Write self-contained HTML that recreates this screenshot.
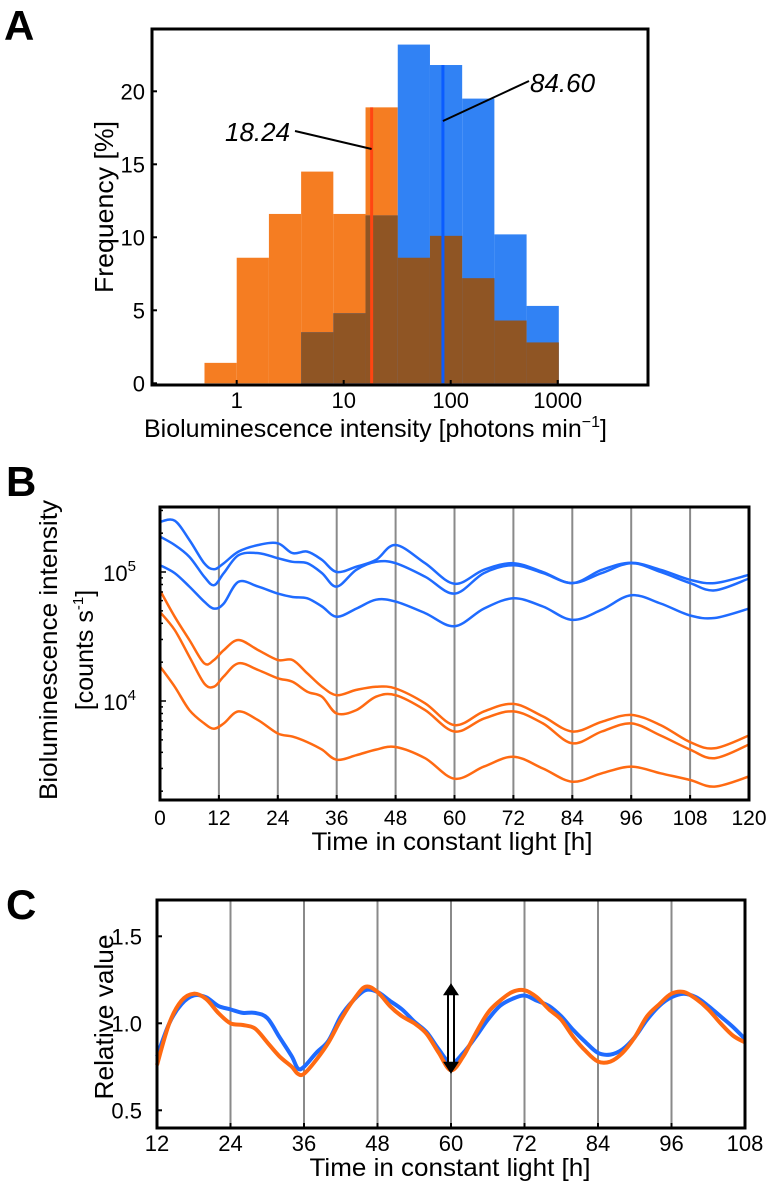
<!DOCTYPE html>
<html><head><meta charset="utf-8"><style>
html,body{margin:0;padding:0;background:#fff;}
svg{display:block;font-family:"Liberation Sans",Arial,sans-serif;}
</style></head><body>
<svg id="fig" width="771" height="1185" viewBox="0 0 771 1185" xmlns="http://www.w3.org/2000/svg">
<text x="4" y="40" font-size="42" font-weight="bold">A</text>
<text x="6" y="496" font-size="42" font-weight="bold">B</text>
<text x="6" y="919" font-size="42" font-weight="bold">C</text>
<g id="pa"></g>
<g id="pb"></g>
<g id="pc"></g>
</svg>
<script>
// ---------- Panel A data ----------
const binEdges = [0.5,1,2,4,8,16,32,64,128,256,512,1024];
const orangeFreq = [1.4,8.6,11.6,14.5,11.6,18.9,8.6,10.1,7.2,4.3,2.8];
const blueFreq = [0,0,0,3.5,4.8,11.5,23.2,21.8,19.5,10.2,5.3];
const aYTicks = [0,5,10,15,20];
const aXTicks = [1,10,100,1000];
const aXTickLabels = ["1","10","100","1000"];
const orangeMedian = 18.24;
const blueMedian = 84.60;
const orangeMedianLabel = "18.24";
const blueMedianLabel = "84.60";

// ---------- Panel B data ----------
const bTimes = [0,3,6,9,11,13,16,20,24,27,30,33,36,40,44,48,54,60,66,72,78,84,90,96,102,108,113,120];
const blue1 = [245,250,177,117,105,117,144,162,167,140,144,124,100,110,124,162,117,81,104,117,100,82,104,118,104,87,82,95];
const blue2 = [188,162,131,92,79,98,135,140,128,120,117,98,77,104,120,117,92,68,98,113,98,82,98,117,100,82,72,89];
const blue3 = [113,98,77,59,52,57,84,77,68,64,62.5,54,45,52,61,59,48,38,52,62.5,54,42.5,51,66,57,46,44,52];
const orange1 = [72,45,29.7,19.6,20.8,24.8,29.7,24.8,20.8,20.8,16.4,12.9,11.1,12.2,12.9,12.5,9.6,6.5,8.3,9.5,7.6,5.8,6.9,7.8,6.5,4.8,4.3,5.4];
const orange2 = [49,35.5,22,13.7,12.9,15.5,19.6,17.4,15.0,14.1,11.8,10.8,8.0,8.5,10.8,11.1,8.5,5.8,7.3,8.3,6.7,4.7,5.8,6.7,5.4,4.2,3.6,4.6];
const orange3 = [18.5,12.9,8.5,6.7,6.1,6.7,8.3,7.1,5.6,5.3,4.8,4.2,3.5,3.8,4.2,4.4,3.6,2.5,3.1,3.7,3.0,2.37,2.75,3.1,2.75,2.44,2.17,2.6];
const bXTicks = [0,12,24,36,48,60,72,84,96,108,120];
const bYMajor = [4,5];

// ---------- Panel C data ----------
const cTimes = [12,14,16,18,20,22,24,26,28,30,32,34,35,36,38,40,42,44,46,48,50,52,54,56,58,60,62,64,66,68,70,72,74,76,78,80,82,84,86,88,90,92,94,96,98,100,102,104,106,108];
const cBlue = [0.81,1.0,1.11,1.16,1.15,1.10,1.08,1.06,1.06,1.03,0.92,0.81,0.74,0.75,0.83,0.90,1.04,1.13,1.19,1.18,1.13,1.08,1.01,0.95,0.85,0.77,0.83,0.92,1.02,1.10,1.14,1.16,1.13,1.10,1.04,0.96,0.89,0.83,0.82,0.85,0.92,1.02,1.10,1.15,1.17,1.15,1.10,1.04,0.98,0.91];
const cOrange = [0.76,1.0,1.13,1.17,1.14,1.06,1.0,0.99,0.97,0.89,0.81,0.75,0.71,0.71,0.79,0.89,1.02,1.13,1.21,1.18,1.10,1.04,1.0,0.94,0.83,0.73,0.81,0.94,1.06,1.13,1.18,1.19,1.15,1.08,1.02,0.92,0.84,0.78,0.78,0.83,0.92,1.04,1.11,1.17,1.18,1.14,1.08,1.0,0.93,0.89];
const cXTicks = [12,24,36,48,60,72,84,96,108];
const cYTicks = [0.5,1.0,1.5];
const cYTickLabels = ["0.5","1.0","1.5"];
const arrowTime = 60;
const arrowLow = 0.71;
const arrowHigh = 1.23;

const NS = "http://www.w3.org/2000/svg";
function mk(tag, attrs, parent){
  const e = document.createElementNS(NS, tag);
  for (const k in attrs) e.setAttribute(k, attrs[k]);
  parent.appendChild(e);
  return e;
}
function smoothPath(p){
  let d = 'M'+p[0][0].toFixed(1)+','+p[0][1].toFixed(1);
  for (let i=0;i<p.length-1;i++){
    const p0=p[Math.max(i-1,0)], p1=p[i], p2=p[i+1], p3=p[Math.min(i+2,p.length-1)];
    const c1x=p1[0]+(p2[0]-p0[0])/6, c1y=p1[1]+(p2[1]-p0[1])/6;
    const c2x=p2[0]-(p3[0]-p1[0])/6, c2y=p2[1]-(p3[1]-p1[1])/6;
    d+=' C'+c1x.toFixed(1)+','+c1y.toFixed(1)+' '+c2x.toFixed(1)+','+c2y.toFixed(1)+' '+p2[0].toFixed(1)+','+p2[1].toFixed(1);
  }
  return d;
}

// ================= Panel A =================
(function(){
  const g = document.getElementById('pa');
  const L=152, R=648, T=29, B=385;
  const xA = v => 236.7 + Math.log10(v)*107;
  const yA = v => 383.3 - v*14.6;
  for (let i=0;i<orangeFreq.length;i++){
    const x0=xA(binEdges[i]), x1=xA(binEdges[i+1]);
    if (orangeFreq[i]>0){
      const r = mk('rect',{x:x0,y:yA(orangeFreq[i]),width:x1-x0,height:yA(0)-yA(orangeFreq[i]),fill:'#f57d22'},g);
      
      
    }
  }
  for (let i=0;i<blueFreq.length;i++){
    const x0=xA(binEdges[i]), x1=xA(binEdges[i+1]);
    if (blueFreq[i]>0){
      const r = mk('rect',{x:x0,y:yA(blueFreq[i]),width:x1-x0,height:yA(0)-yA(blueFreq[i]),fill:'#3182f4'},g);
      
      
    }
  }
  for (let i=0;i<blueFreq.length;i++){
    const m=Math.min(orangeFreq[i],blueFreq[i]);
    if (m>0){
      const x0=xA(binEdges[i]), x1=xA(binEdges[i+1]);
      const r = mk('rect',{x:x0,y:yA(m),width:x1-x0,height:yA(0)-yA(m),fill:'#8f5524'},g);
      
      
    }
  }
  const oi = binEdges.findIndex((e,i)=>orangeMedian>=e && orangeMedian<binEdges[i+1]);
  const bi = binEdges.findIndex((e,i)=>blueMedian>=e && blueMedian<binEdges[i+1]);
  const ml1 = mk('line',{x1:xA(orangeMedian),x2:xA(orangeMedian),y1:yA(orangeFreq[oi]),y2:yA(0),stroke:'#ff4512','stroke-width':3},g);
  
  
  const ml2 = mk('line',{x1:xA(blueMedian),x2:xA(blueMedian),y1:yA(blueFreq[bi]),y2:yA(0),stroke:'#0a5cff','stroke-width':3},g);
  
  
  const c1 = mk('line',{x1:295,y1:131,x2:xA(orangeMedian),y2:149,stroke:'#000','stroke-width':2},g);
  
  
  const c2 = mk('line',{x1:529,y1:81,x2:xA(blueMedian),y2:121,stroke:'#000','stroke-width':2},g);
  
  
  const t1 = mk('text',{x:225,y:141,'font-size':26,'font-style':'italic'},g);
  t1.textContent = orangeMedianLabel;
  
  
  const t2 = mk('text',{x:530,y:92,'font-size':26,'font-style':'italic'},g);
  t2.textContent = blueMedianLabel;
  
  
  const fr = mk('rect',{x:L,y:T,width:R-L,height:B-T,fill:'none',stroke:'#000','stroke-width':3},g);
  
  
  aYTicks.forEach(v=>{
    const tk = mk('line',{x1:L,x2:L+5,y1:yA(v),y2:yA(v),stroke:'#000','stroke-width':2},g);
    
    
    const tl = mk('text',{x:145,y:yA(v)+8,'font-size':22,'text-anchor':'end'},g);
    tl.textContent = String(v);
    
    
  });
  aXTicks.forEach((v,i)=>{
    const tk = mk('line',{x1:xA(v),x2:xA(v),y1:B,y2:B-5,stroke:'#000','stroke-width':2},g);
    
    
    const tl = mk('text',{x:xA(v),y:408,'font-size':22,'text-anchor':'middle'},g);
    tl.textContent = aXTickLabels[i];
    
    
  });
  const xt = mk('text',{x:144,y:437,'font-size':25},g);
  xt.textContent = 'Bioluminescence intensity [photons min';
  const sa = mk('tspan',{'font-size':16,dy:-10},xt);
  sa.textContent = '\u22121';
  const sb = mk('tspan',{dy:10},xt);
  sb.textContent = ']';
  
  
  const yt = mk('text',{x:0,y:0,'font-size':26,'text-anchor':'middle',textLength:172,lengthAdjust:'spacingAndGlyphs',transform:'translate(113,207) rotate(-90)'},g);
  yt.textContent = 'Frequency [%]';
  
  
})();

// ================= Panel B =================
(function(){
  const g = document.getElementById('pb');
  const L=160, R=749, T=507, B=800;
  const xB = t => L + t*(R-L)/120;
  const yB = v => 572 - (Math.log10(v*1000)-5)*129;
  bXTicks.slice(1,-1).forEach(t=>{
    const gl = mk('line',{x1:xB(t),x2:xB(t),y1:T,y2:B,stroke:'#8a8a8a','stroke-width':2},g);
    
    
  });
  const series = [[blue1,'#1f6bff','blue-trace-1'],[blue2,'#1f6bff','blue-trace-2'],[blue3,'#1f6bff','blue-trace-3'],
                  [orange1,'#ff6a12','orange-trace-1'],[orange2,'#ff6a12','orange-trace-2'],[orange3,'#ff6a12','orange-trace-3']];
  series.forEach(s=>{
    const pts = bTimes.map((t,i)=>[xB(t),yB(s[0][i])]);
    const pl = mk('path',{d:smoothPath(pts),fill:'none',stroke:s[1],'stroke-width':2.5,'stroke-linejoin':'round'},g);
    
    
  });
  const fr = mk('rect',{x:L,y:T,width:R-L,height:B-T,fill:'none',stroke:'#000','stroke-width':3},g);
  
  
  for (let d=3; d<=5; d++){
    for (let m=1; m<10; m++){
      const v = m*Math.pow(10,d)/1000;
      const y = yB(v);
      if (y<T || y>B) continue;
      const tk = mk('line',{x1:L,x2:L+(m===1?6:3),y1:y,y2:y,stroke:'#000','stroke-width':1.5},g);
      
      
    }
  }
  bYMajor.forEach(p=>{
    const tl = mk('text',{x:136,y:yB(Math.pow(10,p)/1000)+9,'font-size':22,'text-anchor':'end'},g);
    tl.textContent = '10';
    const sp = mk('tspan',{'font-size':15,dy:-10},tl);
    sp.textContent = String(p);
    
    
  });
  bXTicks.forEach(t=>{
    const tk = mk('line',{x1:xB(t),x2:xB(t),y1:B,y2:B-5,stroke:'#000','stroke-width':2},g);
    
    
    const tl = mk('text',{x:xB(t),y:825,'font-size':21,'text-anchor':'middle'},g);
    tl.textContent = String(t);
    
    
  });
  const xt = mk('text',{x:452,y:850,'font-size':25,'text-anchor':'middle',textLength:281,lengthAdjust:'spacingAndGlyphs'},g);
  xt.textContent = 'Time in constant light [h]';
  
  
  const yt1 = mk('text',{x:0,y:0,'font-size':25,'text-anchor':'middle',textLength:300,lengthAdjust:'spacingAndGlyphs',transform:'translate(57,650) rotate(-90)'},g);
  yt1.textContent = 'Bioluminescence intensity';
  
  
  const yt2 = mk('text',{x:0,y:0,'font-size':25,'text-anchor':'middle',transform:'translate(93,650) rotate(-90)'},g);
  yt2.textContent = '[counts s';
  const sp2 = mk('tspan',{'font-size':15,dy:-10},yt2);
  sp2.textContent = '-1';
  const sp3 = mk('tspan',{dy:10},yt2);
  sp3.textContent = ']';
  
  
})();

// ================= Panel C =================
(function(){
  const g = document.getElementById('pc');
  const L=157, R=745, T=900, B=1128;
  const xC = t => L + (t-12)*(R-L)/96;
  const yC = v => 1023.3 - (v-1)*174;
  cXTicks.slice(1,-1).forEach(t=>{
    const gl = mk('line',{x1:xC(t),x2:xC(t),y1:T,y2:B,stroke:'#8a8a8a','stroke-width':2},g);
    
    
  });
  const bp = cTimes.map((t,i)=>[xC(t),yC(cBlue[i])]);
  const bl = mk('path',{d:smoothPath(bp),fill:'none',stroke:'#1f6bff','stroke-width':4,'stroke-linejoin':'round'},g);
  
  
  const op = cTimes.map((t,i)=>[xC(t),yC(cOrange[i])]);
  const ol = mk('path',{d:smoothPath(op),fill:'none',stroke:'#ff6a12','stroke-width':4,'stroke-linejoin':'round'},g);
  
  
  const ax = xC(arrowTime), y1 = yC(arrowHigh), y2 = yC(arrowLow);
  const a0 = mk('rect',{x:ax-3,y:y1+8,width:6,height:(y2-8)-(y1+8),fill:'#fff'},g);
  
  
  const a1 = mk('line',{x1:ax-3,x2:ax-3,y1:y1+8,y2:y2-8,stroke:'#000','stroke-width':2},g);
  
  
  const a2 = mk('line',{x1:ax+3,x2:ax+3,y1:y1+8,y2:y2-8,stroke:'#000','stroke-width':2},g);
  
  
  const h1 = mk('polygon',{points:`${ax},${y1} ${ax-8},${y1+12} ${ax+8},${y1+12}`,fill:'#000'},g);
  
  
  const h2 = mk('polygon',{points:`${ax},${y2} ${ax-8},${y2-12} ${ax+8},${y2-12}`,fill:'#000'},g);
  
  
  const fr = mk('rect',{x:L,y:T,width:R-L,height:B-T,fill:'none',stroke:'#000','stroke-width':3},g);
  
  
  cYTicks.forEach((v,i)=>{
    const tk = mk('line',{x1:L,x2:L+5,y1:yC(v),y2:yC(v),stroke:'#000','stroke-width':2},g);
    
    
    const tl = mk('text',{x:142,y:yC(v)+8,'font-size':22,'text-anchor':'end'},g);
    tl.textContent = cYTickLabels[i];
    
    
  });
  cXTicks.forEach(t=>{
    const tk = mk('line',{x1:xC(t),x2:xC(t),y1:B,y2:B-5,stroke:'#000','stroke-width':2},g);
    
    
    const tl = mk('text',{x:xC(t),y:1151,'font-size':22,'text-anchor':'middle'},g);
    tl.textContent = String(t);
    
    
  });
  const xt = mk('text',{x:450,y:1176,'font-size':25,'text-anchor':'middle',textLength:281,lengthAdjust:'spacingAndGlyphs'},g);
  xt.textContent = 'Time in constant light [h]';
  
  
  const yt = mk('text',{x:0,y:0,'font-size':26,'text-anchor':'middle',textLength:165,lengthAdjust:'spacingAndGlyphs',transform:'translate(113,1017) rotate(-90)'},g);
  yt.textContent = 'Relative value';
  
  
})();
</script>
</body></html>
